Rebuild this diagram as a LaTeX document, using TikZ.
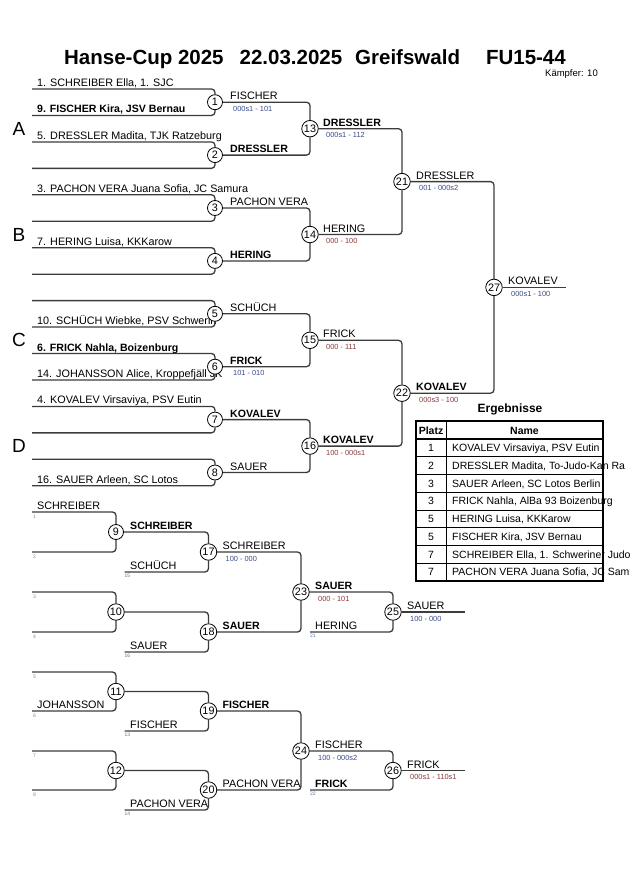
\documentclass[tikz,border=0pt]{standalone}
\usepackage{fontspec}
\setmainfont{Liberation Sans}
\definecolor{linegray}{HTML}{3C3C3C}
\definecolor{scblue}{HTML}{3A4A8A}
\definecolor{scred}{HTML}{8A3A3A}
\definecolor{seedgray}{HTML}{8A8A8A}
\definecolor{seedblue}{HTML}{5A7AA0}
\newcommand\fnN{\fontsize{10.8}{12}\selectfont}
\newcommand\fnB{\fontsize{10.6}{12}\selectfont\bfseries}
\newcommand\fnS{\fontsize{7.4}{8}\selectfont}
\newcommand\fnT{\fontsize{5}{6}\selectfont}
\newcommand\fnL{\fontsize{19}{22}\selectfont}
\newcommand\fnH{\fontsize{20.5}{24}\selectfont\bfseries}
\newcommand\fnE{\fontsize{12}{14}\selectfont\bfseries}
\newcommand\fnR{\fontsize{10.5}{12}\selectfont}
\newcommand\fnK{\fontsize{9.5}{11}\selectfont}
\pgfdeclarelayer{bgzero}
\pgfdeclarelayer{bgone}
\pgfsetlayers{bgzero,bgone,main}
\begin{document}
\begin{tikzpicture}[x=1pt,y=-1pt,
  bline/.style={draw=linegray, line width=1.3pt, rounded corners=3.5pt},
  circ/.style={circle, draw=black, fill=white, line width=0.8pt, inner sep=0pt, minimum size=15pt, font=\fnN},
  circw/.style={circ, minimum size=16.5pt},
  nm/.style={anchor=base west, inner sep=0pt, font=\fnN},
  bnm/.style={anchor=base west, inner sep=0pt, font=\fnB},
  sb/.style={anchor=base west, inner sep=0pt, font=\fnS, text=scblue},
  sr/.style={anchor=base west, inner sep=0pt, font=\fnS, text=scred},
  sdg/.style={anchor=base west, inner sep=0pt, font=\fnT, text=seedgray},
  sdb/.style={anchor=base west, inner sep=0pt, font=\fnT, text=seedblue},
  grp/.style={inner sep=0pt, font=\fnL},
  tcell/.style={anchor=base west, inner sep=0pt, font=\fnR},
  tnum/.style={anchor=base, inner sep=0pt, font=\fnR},
  thead/.style={anchor=base, inner sep=0pt, font=\fnR\bfseries}
]
\begin{pgfonlayer}{bgzero}
\fill[white] (0,0) rectangle (630,891);
\end{pgfonlayer}
\useasboundingbox (0,0) rectangle (630,891);

% ---------- circles (main layer, on top) ----------
\node[circ] (c1) at (215,102.2) {1};
\node[circ] (c2) at (215,155.1) {2};
\node[circ] (c3) at (215,208.0) {3};
\node[circ] (c4) at (215,260.9) {4};
\node[circ] (c5) at (215,313.8) {5};
\node[circ] (c6) at (215,366.7) {6};
\node[circ] (c7) at (215,419.6) {7};
\node[circ] (c8) at (215,472.5) {8};
\node[circw] (c13) at (310,128.7) {13};
\node[circw] (c14) at (310,234.5) {14};
\node[circw] (c15) at (310,340.3) {15};
\node[circw] (c16) at (310,446.1) {16};
\node[circw] (c21) at (402,181.6) {21};
\node[circw] (c22) at (402,393.2) {22};
\node[circw] (c27) at (494,287.4) {27};

\node[circ] (c9) at (116,532) {9};
\node[circw] (c10) at (116,612) {10};
\node[circw] (c11) at (116,691.5) {11};
\node[circw] (c12) at (116,770.5) {12};
\node[circw] (c17) at (208.5,552) {17};
\node[circw] (c18) at (208.5,632) {18};
\node[circw] (c19) at (208.5,711) {19};
\node[circw] (c20) at (208.5,790) {20};
\node[circw] (c23) at (301,592) {23};
\node[circw] (c24) at (301,751) {24};
\node[circw] (c25) at (393,612) {25};
\node[circw] (c26) at (393,770.5) {26};

\begin{pgfonlayer}{bgone}
% ---------- free ends ----------
\coordinate (a0) at (32,89);
\coordinate (a1) at (32,115.45);
\coordinate (a2) at (32,141.9);
\coordinate (a3) at (32,168.35);
\coordinate (a4) at (32,194.8);
\coordinate (a5) at (32,221.25);
\coordinate (a6) at (32,247.7);
\coordinate (a7) at (32,274.15);
\coordinate (a8) at (32,300.6);
\coordinate (a9) at (32,327.05);
\coordinate (a10) at (32,353.5);
\coordinate (a11) at (32,379.95);
\coordinate (a12) at (32,406.4);
\coordinate (a13) at (32,432.85);
\coordinate (a14) at (32,459.3);
\coordinate (a15) at (32,485.75);
\coordinate (e27) at (566,287.4);

\coordinate (b1) at (32,512);
\coordinate (b2) at (32,552);
\coordinate (b3) at (32,592);
\coordinate (b4) at (32,632);
\coordinate (b5) at (32,672);
\coordinate (b6) at (32,711);
\coordinate (b7) at (32,751);
\coordinate (b8) at (32,790);
\coordinate (b15) at (124.5,572);
\coordinate (b16) at (124.5,652);
\coordinate (b13) at (124.5,731);
\coordinate (b14) at (124.5,810);
\coordinate (b21) at (310,632);
\coordinate (b22) at (310,790);
\coordinate (e25) at (465,612);
\coordinate (e26) at (465,770.5);

% ---------- connectors, upper bracket ----------
\draw[bline] (a0) -| (c1); \draw[bline] (a1) -| (c1);
\draw[bline] (a2) -| (c2); \draw[bline] (a3) -| (c2);
\draw[bline] (a4) -| (c3); \draw[bline] (a5) -| (c3);
\draw[bline] (a6) -| (c4); \draw[bline] (a7) -| (c4);
\draw[bline] (a8) -| (c5); \draw[bline] (a9) -| (c5);
\draw[bline] (a10) -| (c6); \draw[bline] (a11) -| (c6);
\draw[bline] (a12) -| (c7); \draw[bline] (a13) -| (c7);
\draw[bline] (a14) -| (c8); \draw[bline] (a15) -| (c8);
\draw[bline] (c1) -| (c13); \draw[bline] (c2) -| (c13);
\draw[bline] (c3) -| (c14); \draw[bline] (c4) -| (c14);
\draw[bline] (c5) -| (c15); \draw[bline] (c6) -| (c15);
\draw[bline] (c7) -| (c16); \draw[bline] (c8) -| (c16);
\draw[bline] (c13) -| (c21); \draw[bline] (c14) -| (c21);
\draw[bline] (c15) -| (c22); \draw[bline] (c16) -| (c22);
\draw[bline] (c21) -| (c27); \draw[bline] (c22) -| (c27);
\draw[bline] (c27) -- (e27);

% ---------- connectors, lower bracket ----------
\draw[bline] (b1) -| (c9); \draw[bline] (b2) -| (c9);
\draw[bline] (b3) -| (c10); \draw[bline] (b4) -| (c10);
\draw[bline] (b5) -| (c11); \draw[bline] (b6) -| (c11);
\draw[bline] (b7) -| (c12); \draw[bline] (b8) -| (c12);
\draw[bline] (c9) -| (c17); \draw[bline] (b15) -| (c17);
\draw[bline] (c10) -| (c18); \draw[bline] (b16) -| (c18);
\draw[bline] (c11) -| (c19); \draw[bline] (b13) -| (c19);
\draw[bline] (c12) -| (c20); \draw[bline] (b14) -| (c20);
\draw[bline] (c17) -| (c23); \draw[bline] (c18) -| (c23);
\draw[bline] (c19) -| (c24); \draw[bline] (c20) -| (c24);
\draw[bline] (c23) -| (c25); \draw[bline] (b21) -| (c25);
\draw[bline] (c24) -| (c26); \draw[bline] (b22) -| (c26);
\draw[bline] (c25) -- (e25);
\draw[bline] (c26) -- (e26);

% ---------- title ----------
\node[anchor=base, inner sep=0pt, font=\fnH] (title) at (315,64)
  {Hanse-Cup 2025\hspace{16pt}22.03.2025\hspace{13pt}Greifswald\hspace{26pt}FU15-44};
\node[anchor=base east, inner sep=0pt, font=\fnK] (kaempfer) at (598,76) {Kämpfer: 10};

% ---------- group letters ----------
\node[grp] (gA) at (19,128.7) {A};
\node[grp] (gB) at (19,234.5) {B};
\node[grp] (gC) at (19,340.3) {C};
\node[grp] (gD) at (19,446.1) {D};

% ---------- first round names ----------
\node[nm]  (n0) at (37,86.5) {1. SCHREIBER Ella, 1. SJC};
\node[bnm] (n1) at (37,112.95) {9. FISCHER Kira, JSV Bernau};
\node[nm]  (n2) at (37,139.4) {5. DRESSLER Madita, TJK Ratzeburg};
\node[nm]  (n4) at (37,192.3) {3. PACHON VERA Juana Sofia, JC Samura};
\node[nm]  (n6) at (37,245.2) {7. HERING Luisa, KKKarow};
\node[nm]  (n9) at (37,324.55) {10. SCHÜCH Wiebke, PSV Schwerin};
\node[bnm] (n10) at (37,351) {6. FRICK Nahla, Boizenburg};
\node[nm]  (n11) at (37,377.45) {14. JOHANSSON Alice, Kroppefjäll JK};
\node[nm]  (n12) at (37,403.9) {4. KOVALEV Virsaviya, PSV Eutin};
\node[nm]  (n15) at (37,483.25) {16. SAUER Arleen, SC Lotos};

% ---------- upper winners and scores ----------
\node[nm]  (w1) at (230,99.7) {FISCHER};
\node[sb]  (s1) at (233,111.2) {000s1 - 101};
\node[bnm] (w2) at (230,152.6) {DRESSLER};
\node[nm]  (w3) at (230,205.5) {PACHON VERA};
\node[bnm] (w4) at (230,258.4) {HERING};
\node[nm]  (w5) at (230,311.3) {SCHÜCH};
\node[bnm] (w6) at (230,364.2) {FRICK};
\node[sb]  (s6) at (233,375.7) {101 - 010};
\node[bnm] (w7) at (230,417.1) {KOVALEV};
\node[nm]  (w8) at (230,470) {SAUER};

\node[bnm] (w13) at (323,126.2) {DRESSLER};
\node[sb]  (s13) at (326,137.7) {000s1 - 112};
\node[nm]  (w14) at (323,232) {HERING};
\node[sr]  (s14) at (326,243.5) {000 - 100};
\node[nm]  (w15) at (323,337.8) {FRICK};
\node[sr]  (s15) at (326,349.3) {000 - 111};
\node[bnm] (w16) at (323,443.6) {KOVALEV};
\node[sr]  (s16) at (326,455.1) {100 - 000s1};

\node[nm]  (w21) at (416,179.1) {DRESSLER};
\node[sb]  (s21) at (419,190.6) {001 - 000s2};
\node[bnm] (w22) at (416,390.7) {KOVALEV};
\node[sr]  (s22) at (419,402.2) {000s3 - 100};

\node[nm]  (w27) at (508,284.9) {KOVALEV};
\node[sb]  (s27) at (511,296.4) {000s1 - 100};

% ---------- lower bracket texts ----------
\node[nm]  (l1) at (37,509.5) {SCHREIBER};
\node[sdg] (d1) at (33,518) {1};
\node[sdg] (d2) at (33,558) {2};
\node[sdg] (d3) at (33,598) {3};
\node[sdg] (d4) at (33,638) {4};
\node[sdg] (d5) at (33,678) {5};
\node[nm]  (l6) at (37,708.5) {JOHANSSON};
\node[sdg] (d6) at (33,717) {6};
\node[sdg] (d7) at (33,757) {7};
\node[sdg] (d8) at (33,796) {8};

\node[bnm] (w9) at (130,529.5) {SCHREIBER};
\node[nm]  (l15) at (130,569.5) {SCHÜCH};
\node[sdb] (d15) at (124.5,577.5) {15};
\node[nm]  (l16) at (130,649.5) {SAUER};
\node[sdb] (d16) at (124.5,657.5) {16};
\node[nm]  (l13) at (130,728.5) {FISCHER};
\node[sdb] (d13) at (124.5,736.5) {13};
\node[nm]  (l14) at (130,807.5) {PACHON VERA};
\node[sdb] (d14) at (124.5,815.5) {14};

\node[nm]  (w17) at (222.5,549.5) {SCHREIBER};
\node[sb]  (s17) at (225.5,561) {100 - 000};
\node[bnm] (w18) at (222.5,629.5) {SAUER};
\node[bnm] (w19) at (222.5,708.5) {FISCHER};
\node[nm]  (w20) at (222.5,787.5) {PACHON VERA};

\node[bnm] (w23) at (315,589.5) {SAUER};
\node[sr]  (s23) at (318,601) {000 - 101};
\node[nm]  (l21) at (315,629.5) {HERING};
\node[sdb] (d21) at (310,637.5) {21};
\node[nm]  (w24) at (315,748.5) {FISCHER};
\node[sb]  (s24) at (318,760) {100 - 000s2};
\node[bnm] (l22) at (315,787.5) {FRICK};
\node[sdb] (d22) at (310,795.5) {22};

\node[nm]  (w25) at (407,609.5) {SAUER};
\node[sb]  (s25) at (410,621) {100 - 000};
\node[nm]  (w26) at (407,768) {FRICK};
\node[sr]  (s26) at (410,779.5) {000s1 - 110s1};

% ---------- results table ----------
\node[anchor=base, inner sep=0pt, font=\fnE] (erg) at (510,412) {Ergebnisse};
\node[thead] (hp) at (431,434) {Platz};
\node[thead] (hn) at (524.5,434) {Name};
\node[tnum] (p1) at (431,451.7) {1};
\node[tcell] (r1) at (452,451.7) {KOVALEV Virsaviya, PSV Eutin};
\node[tnum] (p2) at (431,469.4) {2};
\node[tcell] (r2) at (452,469.4) {DRESSLER Madita, To-Judo-Kan Ra};
\node[tnum] (p3) at (431,487.2) {3};
\node[tcell] (r3) at (452,487.2) {SAUER Arleen, SC Lotos Berlin};
\node[tnum] (p4) at (431,504.9) {3};
\node[tcell] (r4) at (452,504.9) {FRICK Nahla, AlBa 93 Boizenburg};
\node[tnum] (p5) at (431,522.7) {5};
\node[tcell] (r5) at (452,522.7) {HERING Luisa, KKKarow};
\node[tnum] (p6) at (431,540.4) {5};
\node[tcell] (r6) at (452,540.4) {FISCHER Kira, JSV Bernau};
\node[tnum] (p7) at (431,558.2) {7};
\node[tcell] (r7) at (452,558.2) {SCHREIBER Ella, 1. Schweriner Judo};
\node[tnum] (p8) at (431,575.9) {7};
\node[tcell] (r8) at (452,575.9) {PACHON VERA Juana Sofia, JC Sam};
\end{pgfonlayer}

\draw[line width=0.8pt] (446,421) -- (446,581);
\foreach \i in {1,...,7} {
  \draw[line width=0.8pt] (416,439+17.75*\i) -- (603,439+17.75*\i);
}
\draw[line width=1.2pt] (416,439) -- (603,439);
\draw[line width=1.6pt] (416,421) rectangle (603,581);
\end{tikzpicture}
\end{document}
